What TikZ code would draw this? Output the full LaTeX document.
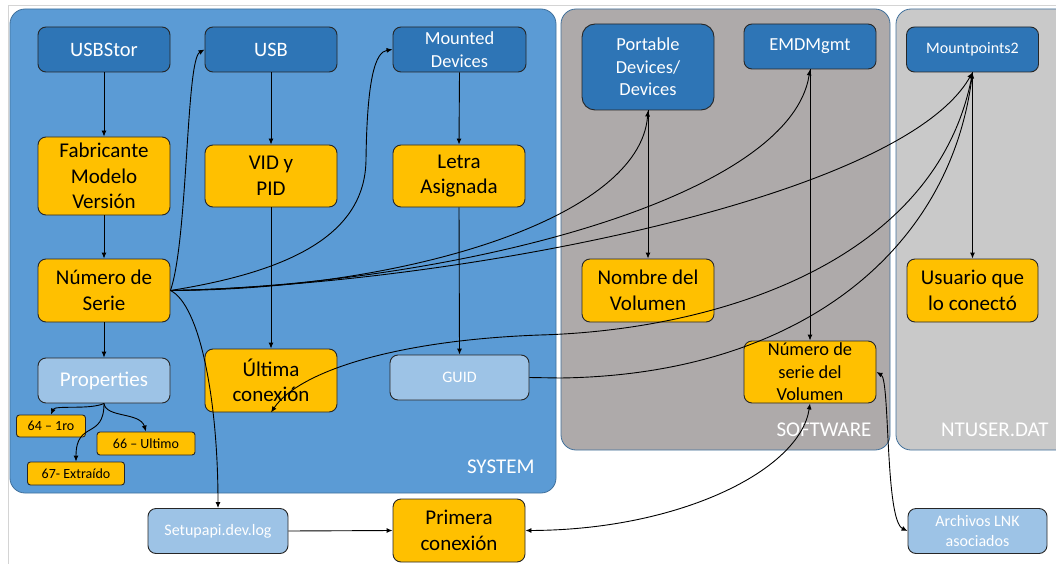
\documentclass[tikz,border=0pt]{standalone}
\usepackage{fontspec}
\setmainfont{Carlito}
\usetikzlibrary{arrows.meta}
\definecolor{sysblue}{HTML}{5B9BD5}
\definecolor{keyblue}{HTML}{2E75B6}
\definecolor{valgold}{HTML}{FFC000}
\definecolor{paleblue}{HTML}{9DC3E6}
\definecolor{softgray}{HTML}{AEAAAA}
\definecolor{ntgray}{HTML}{C9C9C9}
\definecolor{panelline}{HTML}{41719C}
\definecolor{frameline}{HTML}{D4D4D4}
\newcommand\fXL{\fontsize{21}{25.6}\selectfont}
\newcommand\fL{\fontsize{20.5}{25}\selectfont}
\newcommand\fM{\fontsize{18.4}{22.5}\selectfont}
\newcommand\fS{\fontsize{16}{19.5}\selectfont}
\newcommand\fXS{\fontsize{14}{17}\selectfont}
\begin{document}
\begin{tikzpicture}[x=1pt,y=-1pt,
  box/.style={draw=black!85, line width=0.9pt, rounded corners=8pt, inner sep=0pt, align=center},
  key/.style={box, fill=keyblue, text=white},
  val/.style={box, fill=valgold, text=black},
  pale/.style={box, fill=paleblue, text=white},
  tag/.style={box, fill=valgold, text=black, rounded corners=3pt, font=\fXS},
  panel/.style={draw=panelline, line width=0.8pt, rounded corners=15pt},
  hive/.style={text=white, font=\fXL, anchor=east},
  link/.style={draw=black, line width=0.9pt, -{Latex[length=6pt,width=5pt]}},
  both/.style={draw=black, line width=0.9pt, {Latex[length=6pt,width=5pt]}-{Latex[length=6pt,width=5pt]}}]
\useasboundingbox (0,0) rectangle (1056,564);
% slide frame and the three hive panels
\draw[frameline, line width=1pt] (8,600) -- (8,6) -- (1070,6);
\draw[panel, fill=sysblue] (10,9) rectangle (556,493);
\draw[panel, fill=softgray] (561,9) rectangle (890,450);
\draw[panel, fill=ntgray] (896,9) rectangle (1072,450);
\node[hive] (syslbl) at (538,467) {SYSTEM};
\node[hive] (softlbl) at (875,430) {SOFTWARE};
\node[hive] (ntlbl) at (1052,430) {NTUSER.DAT};

% registry keys
\node[key, minimum width=132pt, minimum height=45pt, font=\fL] (usbstor) at (104,49.5) {USBStor};
\node[key, minimum width=132pt, minimum height=45pt, font=\fL] (usb) at (271,49.5) {USB};
\node[key, minimum width=133pt, minimum height=45pt, font=\fM] (mounted) at (459.5,49.5) {Mounted\\Devices};
\node[key, minimum width=132pt, minimum height=86pt, font=\fM, rounded corners=13pt] (port) at (648,67) {Portable\\Devices/\\Devices};
\node[key, minimum width=132pt, minimum height=45pt, font=\fM] (emd) at (810,46.5) {EMDMgmt};
\node[key, minimum width=132pt, minimum height=45pt, font=\fS] (mp2) at (972.5,49.5) {Mountpoints2};

% extracted values
\node[val, minimum width=132pt, minimum height=78pt, font=\fXL] (fab) at (104,176) {Fabricante\\Modelo\\Versión};
\node[val, minimum width=132pt, minimum height=63pt, font=\fXL] (nserie) at (104,290.5) {Número de\\Serie};
\node[val, minimum width=132pt, minimum height=62pt, font=\fXL] (vid) at (271,176) {VID y\\PID};
\node[val, minimum width=132pt, minimum height=62pt, font=\fXL] (letra) at (459,176) {Letra\\Asignada};
\node[val, minimum width=132pt, minimum height=63pt, font=\fXL] (ultima) at (271,380.5) {Última\\conexión};
\node[val, minimum width=132pt, minimum height=63pt, font=\fXL] (nombre) at (648,290.5) {Nombre del\\Volumen};
\node[val, minimum width=131pt, minimum height=63pt, font=\fXL] (usuario) at (972.5,290.5) {Usuario que\\lo conectó};
\node[val, minimum width=132pt, minimum height=62pt, font=\fM] (nsv) at (810,372) {Número de\\serie del\\Volumen};
\node[val, minimum width=132pt, minimum height=63pt, font=\fXL] (primera) at (459,530.5) {Primera\\conexión};

% secondary sources
\node[pale, minimum width=132pt, minimum height=45pt, font=\fXL] (props) at (104,380.5) {Properties};
\node[pale, minimum width=139pt, minimum height=45pt, font=\fS] (guid) at (459.5,377.5) {GUID};
\node[pale, minimum width=140pt, minimum height=45pt, font=\fS] (setup) at (218,531) {Setupapi.dev.log};
\node[pale, minimum width=139pt, minimum height=45pt, font=\fS] (lnk) at (977.5,531) {Archivos LNK\\asociados};

% property codes
\node[tag, minimum width=69pt, minimum height=22pt] (n64) at (51,426) {64 – 1ro};
\node[tag, minimum width=98pt, minimum height=23pt] (n66) at (146,443.5) {66 – Ultimo};
\node[tag, minimum width=97pt, minimum height=23pt] (n67) at (76,473.5) {67- Extraído};

% straight links
\draw[link] (usbstor.south) -- (fab.north);
\draw[link] (fab.south) -- (nserie.north);
\draw[link] (nserie.south) -- (props.north);
\draw[link] (usb.south) -- (vid.north);
\draw[link] (vid.south) -- (ultima.north);
\draw[link] (mounted.south) -- (letra.north);
\draw[link] (letra.south) -- (guid.north);
\draw[link] (port.south) -- (nombre.north);
\draw[link] (emd.south) -- (nsv.north);
\draw[link] (mp2.south) -- (usuario.north);
\draw[link] (setup.east) -- (primera.west);

% property branches
\draw[link] (props.south) .. controls (90,410) and (55,405) .. (n64.north);
\draw[link] (props.south) .. controls (106,418) and (140,412) .. (n66.north);
\draw[link] (props.south) .. controls (104,440) and (76,420) .. (n67.north);

% serial number lookups
\draw[link] (nserie.east) .. controls (188,240) and (186,60) .. (usb.west);
\draw[link] (nserie.east) .. controls (300,270) and (365,230) .. (366,160) .. controls (367,80) and (375,52) .. (mounted.west);
\draw[link] (nserie.east) .. controls (400,290) and (640,220) .. (port.south);
\draw[link] (nserie.east) .. controls (450,285) and (790,200) .. (emd.south);
\draw[link] (nserie.east) .. controls (450,285) and (900,200) .. (mp2.south);
\draw[link] (nserie.east) .. controls (200,305) and (218,400) .. (setup.north);

% Mountpoints2 links
\draw[link] (mp2.south) .. controls (940,260) and (720,330) .. (540,335) .. controls (400,340) and (300,370) .. (ultima.south);
\draw[link] (guid.east) -- (560,378) .. controls (800,375) and (950,250) .. (mp2.south);

% volume serial links
\draw[both] (primera.east) .. controls (680,530) and (800,470) .. (nsv.south);
\draw[both] (nsv.east) .. controls (890,380) and (885,520) .. (lnk.west);
\end{tikzpicture}
\end{document}
